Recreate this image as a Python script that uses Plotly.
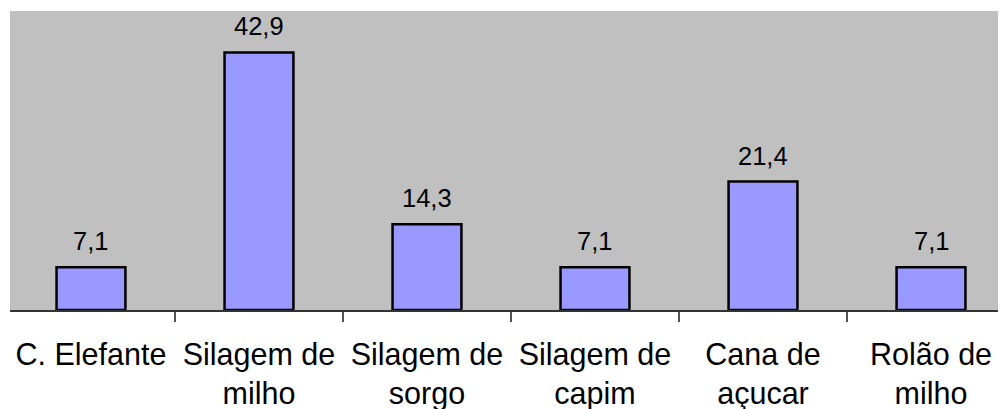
import plotly.graph_objects as go

categories = ["C. Elefante", "Silagem de<br>milho", "Silagem de<br>sorgo",
              "Silagem de<br>capim", "Cana de<br>açucar", "Rolão de<br>milho"]
values = [7.1, 42.9, 14.3, 7.1, 21.4, 7.1]
labels = [f"{v:.1f}".replace(".", ",") for v in values]

FONT = "Liberation Sans, Arial, sans-serif"

fig = go.Figure()
fig.add_trace(go.Bar(
    x=categories, y=values,
    marker=dict(color="#9999FF", line=dict(color="black", width=2.5)),
    width=0.41,
    hoverinfo="skip",
))

for c, v, t in zip(categories, values, labels):
    fig.add_annotation(x=c, y=v, text=t, showarrow=False, yanchor="bottom",
                       yshift=10, font=dict(family=FONT, size=25.5, color="black"))

fig.update_layout(
    width=1006, height=409,
    margin=dict(l=2, r=0, t=3, b=107),
    paper_bgcolor="white", plot_bgcolor="#C0C0C0",
    showlegend=False,
    font=dict(family=FONT, color="black"),
)
fig.update_xaxes(
    range=[-0.482, 5.494], tickson="boundaries", ticks="outside", ticklen=10,
    tickcolor="#555555", tickwidth=2, showline=True, linecolor="#333333", linewidth=2,
    showgrid=False, tickfont=dict(family=FONT, size=30.5, color="black"),
    tickangle=0, ticklabelstandoff=16,
)
fig.update_yaxes(range=[0, 49.8], visible=False, showgrid=False)

fig.write_html("out.html")
